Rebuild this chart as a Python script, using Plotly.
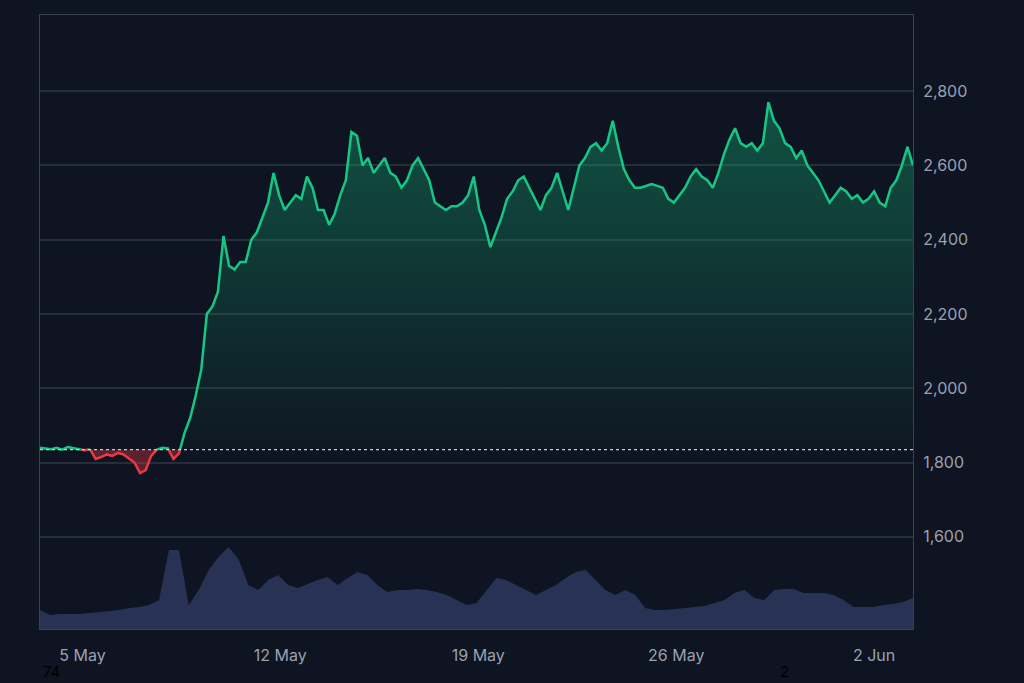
import numpy as np
import pandas as pd
import plotly.graph_objects as go

# price, roughly evenly spaced from 3 May 12:00 to 3 Jun 09:00
price = [1840, 1838, 1836, 1840, 1835, 1842, 1838, 1836, 1833, 1836, 1810, 1815, 1822, 1818, 1826,
         1822, 1812, 1800, 1772, 1780, 1818, 1835, 1840, 1838, 1810, 1825, 1880, 1920, 1980, 2050,
         2200, 2220, 2260, 2410, 2330, 2320, 2340, 2340, 2400, 2420, 2460, 2500, 2580, 2520, 2480,
         2500, 2520, 2510, 2570, 2540, 2480, 2480, 2440, 2470, 2520, 2560, 2690, 2680, 2600, 2620,
         2580, 2600, 2620, 2580, 2570, 2540, 2560, 2600, 2620, 2590, 2560, 2500, 2490, 2480, 2490,
         2490, 2500, 2520, 2570, 2480, 2440, 2380, 2420, 2460, 2510, 2530, 2560, 2570, 2540, 2510,
         2480, 2520, 2540, 2580, 2530, 2480, 2540, 2600, 2620, 2650, 2660, 2640, 2660, 2720, 2650,
         2590, 2560, 2540, 2540, 2545, 2550, 2545, 2540, 2510, 2500, 2520, 2540, 2570, 2590, 2570,
         2560, 2540, 2580, 2630, 2670, 2700, 2660, 2650, 2660, 2640, 2660, 2770, 2720, 2700, 2660,
         2650, 2620, 2640, 2600, 2580, 2560, 2530, 2500, 2520, 2540, 2530, 2510, 2520, 2500, 2510,
         2530, 2500, 2490, 2540, 2560, 2600, 2650, 2600]
baseline = 1835

# volume, evenly spaced over the same period (arbitrary units)
volume = [19, 14, 15, 15, 15, 16, 17, 18, 19, 21, 22, 24, 29, 79, 79, 24, 39, 59, 72, 82, 70,
          44, 39, 49, 54, 44, 41, 45, 49, 52, 44, 51, 57, 54, 44, 37, 39, 39, 40, 39, 37,
          34, 29, 24, 26, 39, 51, 49, 44, 39, 34, 39, 44, 51, 57, 59, 49, 39, 34, 39, 34,
          21, 19, 19, 20, 21, 22, 23, 26, 29, 36, 39, 31, 29, 39, 40, 40, 36, 36, 36, 34,
          29, 22, 22, 22, 24, 25, 27, 31]

start, end = pd.Timestamp("2025-05-03 12:00"), pd.Timestamp("2025-06-03 09:00")
t = pd.date_range(start, end, periods=len(price))
tv = pd.date_range(start, end, periods=len(volume))

# insert crossing points so green/red segments meet at the baseline
xs, ys = [], []
p = np.array(price, dtype=float)
tn = t.astype("int64").to_numpy().astype(float)
for i in range(len(p)):
    if i > 0 and (p[i - 1] - baseline) * (p[i] - baseline) < 0:
        f = (baseline - p[i - 1]) / (p[i] - p[i - 1])
        xs.append(tn[i - 1] + f * (tn[i] - tn[i - 1]))
        ys.append(baseline)
    xs.append(tn[i])
    ys.append(p[i])
xs = pd.to_datetime(np.array(xs).astype("int64"))
ys = np.array(ys)
up = np.where(ys >= baseline, ys, np.nan)
dn = np.where(ys <= baseline, ys, np.nan)

GREEN = "#16c784"
RED = "#ea3943"
fig = go.Figure()

# volume on hidden secondary axis
fig.add_trace(go.Scatter(x=tv, y=volume, yaxis="y2", mode="lines", line=dict(width=0),
                         fill="tozeroy", fillcolor="#283255", hoverinfo="skip"))

fig.add_trace(go.Scatter(x=xs, y=[baseline] * len(xs), mode="lines", line=dict(width=0), hoverinfo="skip"))
fig.add_trace(go.Scatter(x=xs, y=np.maximum(ys, baseline), mode="lines", line=dict(width=0), fill="tonexty",
                         fillgradient=dict(type="vertical",
                                           colorscale=[[0, "rgba(22,199,132,0.02)"], [1, "rgba(22,199,132,0.35)"]]),
                         hoverinfo="skip"))
fig.add_trace(go.Scatter(x=xs, y=[baseline] * len(xs), mode="lines", line=dict(width=0), hoverinfo="skip"))
fig.add_trace(go.Scatter(x=xs, y=np.minimum(ys, baseline), mode="lines", line=dict(width=0), fill="tonexty",
                         fillcolor="rgba(234,57,67,0.35)", hoverinfo="skip"))

fig.add_trace(go.Scatter(x=xs, y=up, mode="lines", line=dict(color=GREEN, width=2.5)))
fig.add_trace(go.Scatter(x=xs, y=dn, mode="lines", line=dict(color=RED, width=2.5)))

fig.add_hline(y=baseline, line=dict(color="#c8ccd4", width=1.2, dash="dot"))

grid = "#262d3b"
fig.update_layout(
    width=1024, height=683,
    paper_bgcolor="#0e1421", plot_bgcolor="#0e1421",
    showlegend=False,
    margin=dict(l=40, r=111, t=15, b=54),
    font=dict(family="Inter, Roboto, sans-serif", color="#9aa1b1", size=16),
    xaxis=dict(range=[start, end], tickvals=pd.to_datetime(["2025-05-05", "2025-05-12", "2025-05-19",
                                                            "2025-05-26", "2025-06-02"]),
               ticktext=["5 May", "12 May", "19 May", "26 May", "2 Jun"],
               showgrid=False, showline=True, linecolor="#3a4150", mirror=True, zeroline=False,
               ticks="", ticklabelstandoff=12),
    yaxis=dict(side="right", range=[1352, 3005], tickvals=[1600, 1800, 2000, 2200, 2400, 2600, 2800],
               tickformat=",", gridcolor=grid, gridwidth=1.5, showline=True, linecolor="#3a4150",
               mirror=True, zeroline=False, ticklabelstandoff=6),
    yaxis2=dict(overlaying="y", range=[0, 614], visible=False),
    annotations=[
        dict(text="74", x=0.002, y=-0.086, xref="paper", yref="paper", xanchor="left", yanchor="bottom",
             showarrow=False, borderpad=0, font=dict(color="#000000", size=15)),
        dict(text="2", x=0.846, y=-0.086, xref="paper", yref="paper", xanchor="left", yanchor="bottom",
             showarrow=False, borderpad=0, font=dict(color="#000000", size=15)),
    ],
)

fig.write_html("out.html", config={"displayModeBar": False},
               post_script="document.body.style.margin='0';")
